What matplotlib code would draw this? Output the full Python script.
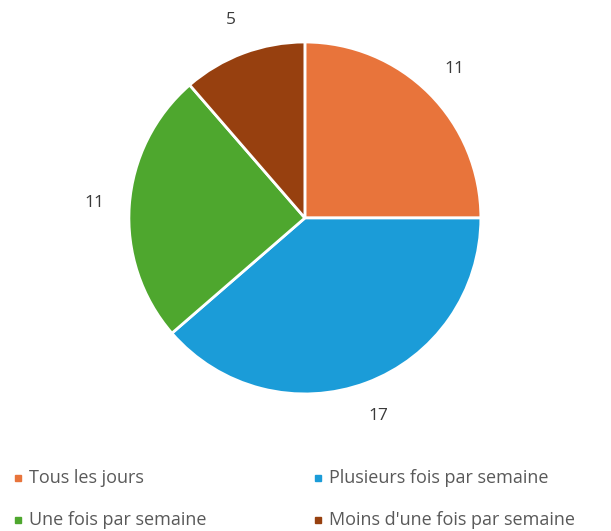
import matplotlib.pyplot as plt
from matplotlib.lines import Line2D

categories = ['Tous les jours', 'Plusieurs fois par semaine', 'Une fois par semaine', "Moins d'une fois par semaine"]
values = [11, 17, 11, 5]
colors = ['#E8743B', '#1B9CD8', '#4EA72E', '#97400F']

plt.rcParams['font.family'] = ['Open Sans', 'DejaVu Sans']

fig = plt.figure(figsize=(6.11, 5.31), dpi=100)
ax = fig.add_axes([0.211, 0.258, 0.576, 0.663])

wedges, texts = ax.pie(values, labels=[str(v) for v in values], colors=colors,
                       startangle=90, counterclock=False, labeldistance=1.2,
                       wedgeprops=dict(edgecolor='white', linewidth=2),
                       textprops=dict(color='#3a3a3a', fontsize=12.5, ha='center', va='center'))
ax.set_xlim(-1, 1)
ax.set_ylim(-1, 1)
ax.set_aspect('equal')

# legend laid out row by row, two columns
col_x = [0.0295, 0.520]
row_y = [0.100, 0.021]
for i, (name, c) in enumerate(zip(categories, colors)):
    x = col_x[i % 2]
    y = row_y[i // 2]
    fig.add_artist(Line2D([x], [y], marker='s', markersize=5, color=c,
                          linestyle='none', transform=fig.transFigure))
    fig.text(x + 0.018, y, name, fontsize=13, color='#595959', va='center', ha='left')

fig.savefig('out.png', dpi=100)
